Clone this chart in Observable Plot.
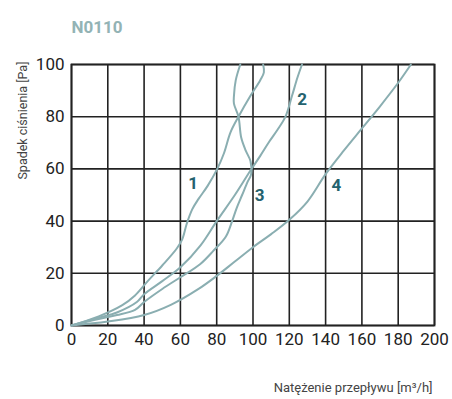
<!DOCTYPE html>
<html>
<head>
<meta charset="utf-8">
<script src="https://cdn.jsdelivr.net/npm/d3@7"></script>
<script src="https://cdn.jsdelivr.net/npm/@observablehq/plot@0.6"></script>
<style>
  html, body { margin: 0; padding: 0; background: #fff; }
  #chart svg { display: block; }
</style>
</head>
<body>
<div id="chart"></div>
<script>
const title = "N0110";
const xLabel = "Natężenie przepływu [m³/h]";
const yLabel = "Spadek ciśnienia [Pa]";
const xTicks = [0, 20, 40, 60, 80, 100, 120, 140, 160, 180, 200];
const yTicks = [0, 20, 40, 60, 80, 100];

// Curve 1
const c1x = [0, 15, 28, 35, 42, 50, 58, 61, 63.5, 66.5, 70, 75, 80.3, 84, 87.6, 92, 98.6, 104, 106, 105.6];
const c1y = [0, 3.5, 7.8, 11.5, 17, 23, 29.5, 33, 39, 44.5, 48.5, 53.5, 60, 66, 74, 80, 88, 94, 97, 100];
// Curve 2
const c2x = [0, 15, 25, 36, 40, 50, 60, 71, 80, 90, 98.6, 104, 109, 113.5, 117.9, 121.5, 124.5, 127];
const c2y = [0, 3, 5, 9, 12, 17, 22.3, 30.6, 40, 50, 59.4, 65, 70.5, 75, 80, 88, 95, 100];
// Curve 3
const c3x = [0, 15, 25, 35, 40, 50, 60, 71, 78, 85, 88.5, 91, 94, 97, 99, 98.6, 96, 93.5, 92, 89.5, 89.5, 90.5, 93];
const c3y = [0, 2.5, 4, 6, 9, 14, 18.5, 23.6, 28.5, 34, 40, 45, 50, 55, 58, 63, 67, 72, 80, 85, 88, 94, 100];
// Curve 4
const c4x = [0, 20, 40, 55, 70, 80, 90, 100, 110, 120, 130, 140, 150, 160, 170, 180, 187];
const c4y = [0, 1.5, 4, 8, 14, 19, 24.5, 30, 35, 40.5, 47.5, 58, 67, 75.5, 84, 93, 100];

const curveNames = ["1", "2", "3", "4"];
const labelX = [67, 127, 103.6, 146];
const labelY = [54.4, 86.6, 49.8, 53.6];

const series = [[c1x, c1y], [c2x, c2y], [c3x, c3y], [c4x, c4y]];
const rows = series.flatMap(([xs, ys], k) => xs.map((x, i) => ({curve: curveNames[k], x, y: ys[i]})));
const labels = curveNames.map((name, i) => ({name, x: labelX[i], y: labelY[i]}));

const lineColor = "#8aaeb1";
const labelColor = "#24626e";
const gridColor = "#222";

const chart = Plot.plot({
  width: 452,
  height: 399,
  marginLeft: 71,
  marginRight: 18,
  marginTop: 64,
  marginBottom: 74,
  style: {fontFamily: "Roboto, sans-serif", background: "#fff", overflow: "visible"},
  x: {domain: [0, 200]},
  y: {domain: [0, 100]},
  marks: [
    Plot.gridX(xTicks, {stroke: gridColor, strokeOpacity: 1, strokeWidth: 1.6}),
    Plot.gridY(yTicks, {stroke: gridColor, strokeOpacity: 1, strokeWidth: 1.6}),
    Plot.frame({stroke: gridColor, strokeWidth: 1.8}),
    Plot.line(rows, {x: "x", y: "y", z: "curve", stroke: lineColor, strokeWidth: 2, curve: "catmull-rom"}),
    Plot.text(labels, {x: "x", y: "y", text: "name", fill: labelColor, fontSize: 17, fontWeight: "bold"}),
    Plot.axisX(xTicks, {tickSize: 0, tickPadding: 7, fontSize: 17, fontWeight: "normal", fill: "#222", label: null}),
    Plot.axisY(yTicks, {tickSize: 0, tickPadding: 7, fontSize: 17, fontWeight: "normal", fill: "#222", label: null}),
    Plot.text([title], {frameAnchor: "top-left", textAnchor: "start", dy: -44, fontSize: 17, fontWeight: "bold", fill: "#93b3b5"}),
    Plot.text([yLabel], {frameAnchor: "top-left", rotate: -90, textAnchor: "end", dx: -53, dy: -3, fontSize: 12.5, fill: "#444"}),
    Plot.text([xLabel], {frameAnchor: "bottom-right", textAnchor: "end", dx: -2, dy: 66, fontSize: 13, fill: "#444"})
  ]
});
document.getElementById("chart").appendChild(chart);
</script>
</body>
</html>
